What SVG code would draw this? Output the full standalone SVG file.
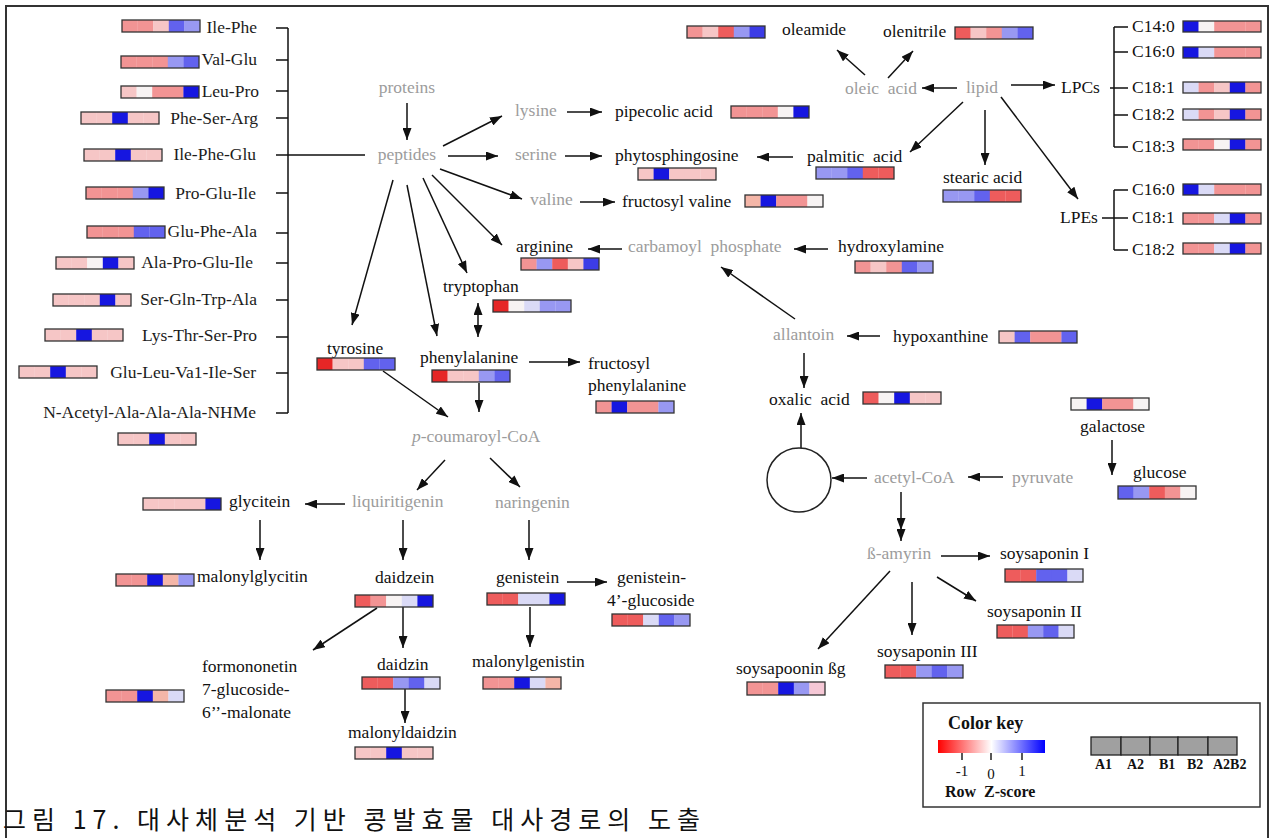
<svg xmlns="http://www.w3.org/2000/svg" width="1273" height="838" viewBox="0 0 1273 838">
<defs>
<style>
text{font-family:"Liberation Serif","Times New Roman",serif;font-size:17.5px;fill:#111}
.g{fill:#9c9c9c}
.pe{text-anchor:end;fill:#1c1c1c}
.k{stroke:#111;stroke-width:1.5;fill:none}
.a{marker-end:url(#ah)}
.bo{fill:none;stroke:#333;stroke-width:1.3}
.r3{fill:#e62626}.r2{fill:#ee5c5c}.r1{fill:#f29494}.r0{fill:#f6c6c6}.ro{fill:#f4b6a8}.rp{fill:#f6c8d6}
.w{fill:#f7f3f3}.b0{fill:#dadaf6}.b1{fill:#9898f2}.b2{fill:#6262ee}.bd{fill:#3c3ce6}.b3{fill:#1616e0}
.lg{font-weight:bold;font-size:14px}
.kt{font-weight:bold;font-size:18px}
.kn{font-size:15px;text-anchor:middle}
.kz{font-weight:bold;font-size:16px}
.cap{font-family:"Noto Sans CJK KR","Noto Sans",sans-serif;font-size:25px;fill:#111}
</style>
<marker id="ah" viewBox="0 0 12 9" refX="12" refY="4.5" markerWidth="12" markerHeight="9" markerUnits="userSpaceOnUse" orient="auto"><path d="M0,0L12,4.5L0,9z" fill="#111"/></marker>
<marker id="as" viewBox="0 0 12 9" refX="12" refY="4.5" markerWidth="12" markerHeight="9" markerUnits="userSpaceOnUse" orient="auto-start-reverse"><path d="M0,0L12,4.5L0,9z" fill="#111"/></marker>
<linearGradient id="zs" x1="0" x2="1" y1="0" y2="0"><stop offset="0" stop-color="#ff0000"/><stop offset="0.5" stop-color="#ffffff"/><stop offset="1" stop-color="#0000ff"/></linearGradient>
</defs>
<rect width="1273" height="838" fill="#fff"/>
<rect x="6" y="6" width="1262" height="860" fill="none" stroke="#333" stroke-width="2"/>

<!-- peptide bracket -->
<g id="peptide-bracket" class="k">
<path d="M288,28V413M276,28H288M276,60H288M276,91H288M276,118H288M276,155H365M276,193H288M276,233H288M276,263H288M276,300H288M276,337H288M276,373H288M276,413H288"/>
</g>

<!-- connectors -->
<g id="connectors" class="k">
<path class="a" d="M407,103L407,140"/>
<path class="a" d="M443,146L502,116"/>
<path class="a" d="M448,156L498,156"/>
<path class="a" d="M440,169L522,199"/>
<path class="a" d="M432,175L502,245"/>
<path class="a" d="M423,178L467,273"/>
<path class="a" d="M407,185L437,336"/>
<path class="a" d="M393,180L352,325"/>
<path class="a" d="M567,112L602,112"/>
<path class="a" d="M565,156L602,156"/>
<path class="a" d="M580,202L615,202"/>
<path class="a" d="M622,249L588,249"/>
<path class="a" d="M828,249L794,249"/>
<path class="a" d="M795,319L721,267"/>
<path class="a" d="M880,336L847,336"/>
<path class="a" d="M804,353L804,388"/>
<path class="a" d="M801,448L801,413"/>
<path class="a" d="M867,478L832,478"/>
<path class="a" d="M1003,477L968,477"/>
<path d="M901,492V530V541" marker-mid="url(#ah)" marker-end="url(#ah)"/>
<path class="a" d="M941,556L990,556"/>
<path class="a" d="M937,577L976,601"/>
<path class="a" d="M912,582L912,635"/>
<path class="a" d="M890,571L818,649"/>
<path class="a" d="M1112,440L1112,475"/>
<path d="M478,303L478,337" marker-start="url(#as)" marker-end="url(#as)"/>
<path class="a" d="M383,371L448,417"/>
<path class="a" d="M479,383L479,412"/>
<path class="a" d="M529,362L580,362"/>
<path class="a" d="M445,460L417,490"/>
<path class="a" d="M490,458L520,487"/>
<path class="a" d="M345,504L305,504"/>
<path class="a" d="M260,520L260,560"/>
<path class="a" d="M403,520L403,560"/>
<path class="a" d="M377,608L313,650"/>
<path class="a" d="M403,607L403,648"/>
<path class="a" d="M405,688L405,723"/>
<path class="a" d="M529,520L529,560"/>
<path class="a" d="M567,582L607,582"/>
<path class="a" d="M530,607L530,647"/>
<path class="a" d="M865,75L837,50"/>
<path class="a" d="M888,78L913,51"/>
<path class="a" d="M957,88L922,88"/>
<path class="a" d="M1011,85L1055,85"/>
<path class="a" d="M963,102L910,152"/>
<path class="a" d="M985,110L985,165"/>
<path class="a" d="M1001,97L1078,199"/>
<path class="a" d="M793,157L757,157"/>
<path d="M1114,27V147M1114,27H1128M1114,52H1128M1110,88H1128M1114,115H1128M1114,147H1128"/>
<path d="M1114,190V250M1114,190H1128M1102,218H1128M1114,250H1128"/>
</g>

<!-- peptides -->
<g id="n-ile-phe"><text class="pe" x="257" y="33">Ile-Phe</text>
<g transform="translate(122,20)"><rect class="r1" width="15.8" height="12"/><rect class="r1" x="15.6" width="15.8" height="12"/><rect class="r0" x="31.2" width="15.8" height="12"/><rect class="b2" x="46.8" width="15.8" height="12"/><rect class="b1" x="62.4" width="15.6" height="12"/><rect class="bo" width="78" height="12"/></g></g>
<g id="n-val-glu"><text class="pe" x="257" y="65">Val-Glu</text>
<g transform="translate(121,56)"><rect class="r1" width="15.8" height="12"/><rect class="r1" x="15.6" width="15.8" height="12"/><rect class="r1" x="31.2" width="15.8" height="12"/><rect class="b1" x="46.8" width="15.8" height="12"/><rect class="b2" x="62.4" width="15.6" height="12"/><rect class="bo" width="78" height="12"/></g></g>
<g id="n-leu-pro"><text class="pe" x="259" y="97">Leu-Pro</text>
<g transform="translate(121,86)"><rect class="r0" width="15.8" height="12"/><rect class="w" x="15.6" width="15.8" height="12"/><rect class="r1" x="31.2" width="15.8" height="12"/><rect class="r1" x="46.8" width="15.8" height="12"/><rect class="b3" x="62.4" width="15.6" height="12"/><rect class="bo" width="78" height="12"/></g></g>
<g id="n-phe-ser-arg"><text class="pe" x="258" y="124">Phe-Ser-Arg</text>
<g transform="translate(81,112)"><rect class="r0" width="15.8" height="12"/><rect class="r0" x="15.6" width="15.8" height="12"/><rect class="b3" x="31.2" width="15.8" height="12"/><rect class="r0" x="46.8" width="15.8" height="12"/><rect class="r0" x="62.4" width="15.6" height="12"/><rect class="bo" width="78" height="12"/></g></g>
<g id="n-ile-phe-glu"><text class="pe" x="256" y="160">Ile-Phe-Glu</text>
<g transform="translate(84,149)"><rect class="r0" width="15.8" height="12"/><rect class="r0" x="15.6" width="15.8" height="12"/><rect class="b3" x="31.2" width="15.8" height="12"/><rect class="r0" x="46.8" width="15.8" height="12"/><rect class="r0" x="62.4" width="15.6" height="12"/><rect class="bo" width="78" height="12"/></g></g>
<g id="n-pro-glu-ile"><text class="pe" x="256" y="199">Pro-Glu-Ile</text>
<g transform="translate(86,187)"><rect class="r1" width="15.8" height="12"/><rect class="r1" x="15.6" width="15.8" height="12"/><rect class="r1" x="31.2" width="15.8" height="12"/><rect class="b1" x="46.8" width="15.8" height="12"/><rect class="b3" x="62.4" width="15.6" height="12"/><rect class="bo" width="78" height="12"/></g></g>
<g id="n-glu-phe-ala"><text class="pe" x="257" y="237">Glu-Phe-Ala</text>
<g transform="translate(87,226)"><rect class="r1" width="15.8" height="12"/><rect class="r1" x="15.6" width="15.8" height="12"/><rect class="r1" x="31.2" width="15.8" height="12"/><rect class="b2" x="46.8" width="15.8" height="12"/><rect class="b2" x="62.4" width="15.6" height="12"/><rect class="bo" width="78" height="12"/></g></g>
<g id="n-ala-pro-glu-ile"><text class="pe" x="253" y="268">Ala-Pro-Glu-Ile</text>
<g transform="translate(56,257)"><rect class="r0" width="15.8" height="12"/><rect class="r0" x="15.6" width="15.8" height="12"/><rect class="w" x="31.2" width="15.8" height="12"/><rect class="b3" x="46.8" width="15.8" height="12"/><rect class="r0" x="62.4" width="15.6" height="12"/><rect class="bo" width="78" height="12"/></g></g>
<g id="n-ser-gln-trp-ala"><text class="pe" x="257" y="305">Ser-Gln-Trp-Ala</text>
<g transform="translate(53,294)"><rect class="r0" width="15.8" height="12"/><rect class="r0" x="15.6" width="15.8" height="12"/><rect class="r0" x="31.2" width="15.8" height="12"/><rect class="b3" x="46.8" width="15.8" height="12"/><rect class="r0" x="62.4" width="15.6" height="12"/><rect class="bo" width="78" height="12"/></g></g>
<g id="n-lys-thr-ser-pro"><text class="pe" x="257" y="341">Lys-Thr-Ser-Pro</text>
<g transform="translate(45,329)"><rect class="r0" width="15.8" height="12"/><rect class="r0" x="15.6" width="15.8" height="12"/><rect class="b3" x="31.2" width="15.8" height="12"/><rect class="r0" x="46.8" width="15.8" height="12"/><rect class="r0" x="62.4" width="15.6" height="12"/><rect class="bo" width="78" height="12"/></g></g>
<g id="n-glu-leu-val-ile-ser"><text class="pe" x="256" y="378">Glu-Leu-Va1-Ile-Ser</text>
<g transform="translate(19,366)"><rect class="r0" width="15.8" height="12"/><rect class="r0" x="15.6" width="15.8" height="12"/><rect class="b3" x="31.2" width="15.8" height="12"/><rect class="r0" x="46.8" width="15.8" height="12"/><rect class="r0" x="62.4" width="15.6" height="12"/><rect class="bo" width="78" height="12"/></g></g>
<g id="n-n-acetyl"><text class="pe" x="256" y="418">N-Acetyl-Ala-Ala-Ala-NHMe</text>
<g transform="translate(118,433)"><rect class="r0" width="15.8" height="12"/><rect class="r0" x="15.6" width="15.8" height="12"/><rect class="b3" x="31.2" width="15.8" height="12"/><rect class="r0" x="46.8" width="15.8" height="12"/><rect class="r0" x="62.4" width="15.6" height="12"/><rect class="bo" width="78" height="12"/></g></g>

<!-- intermediates without data -->
<g id="n-proteins"><text class="g" x="407" y="93" text-anchor="middle">proteins</text></g>
<g id="n-peptides"><text class="g" x="407" y="160" text-anchor="middle">peptides</text></g>
<g id="n-lysine"><text class="g" x="515" y="116">lysine</text></g>
<g id="n-serine"><text class="g" x="515" y="160">serine</text></g>
<g id="n-valine"><text class="g" x="530" y="205">valine</text></g>
<g id="n-carbamoyl-phosphate"><text class="g" x="628" y="252">carbamoyl&#160; phosphate</text></g>
<g id="n-p-coumaroyl-coa"><text class="g" x="412" y="442"><tspan font-style="italic">p</tspan>-coumaroyl-CoA</text></g>
<g id="n-liquiritigenin"><text class="g" x="352" y="507">liquiritigenin</text></g>
<g id="n-naringenin"><text class="g" x="495" y="508">naringenin</text></g>
<g id="n-oleic-acid"><text class="g" x="845" y="94">oleic&#160; acid</text></g>
<g id="n-lipid"><text class="g" x="966" y="93">lipid</text></g>
<g id="n-allantoin"><text class="g" x="773" y="340">allantoin</text></g>
<g id="n-acetyl-coa"><text class="g" x="874" y="483">acetyl-CoA</text></g>
<g id="n-pyruvate"><text class="g" x="1012" y="483">pyruvate</text></g>
<g id="n-b-amyrin"><text class="g" x="867" y="559">ß-amyrin</text></g>
<g id="n-tca"><circle cx="799" cy="480" r="32" fill="none" stroke="#222" stroke-width="1.5"/></g>

<!-- metabolites with heat strips -->
<g id="n-pipecolic-acid"><text x="615" y="117">pipecolic acid</text>
<g transform="translate(731,106)"><rect class="r1" width="15.8" height="12"/><rect class="r1" x="15.6" width="15.8" height="12"/><rect class="r1" x="31.2" width="15.8" height="12"/><rect class="w" x="46.8" width="15.8" height="12"/><rect class="b3" x="62.4" width="15.6" height="12"/><rect class="bo" width="78" height="12"/></g></g>
<g id="n-phytosphingosine"><text x="615" y="161">phytosphingosine</text>
<g transform="translate(638,168)"><rect class="r0" width="15.8" height="12"/><rect class="b3" x="15.6" width="15.8" height="12"/><rect class="r0" x="31.2" width="15.8" height="12"/><rect class="r0" x="46.8" width="15.8" height="12"/><rect class="r0" x="62.4" width="15.6" height="12"/><rect class="bo" width="78" height="12"/></g></g>
<g id="n-fructosyl-valine"><text x="622" y="207">fructosyl valine</text>
<g transform="translate(745,195)"><rect class="ro" width="15.8" height="12"/><rect class="b3" x="15.6" width="15.8" height="12"/><rect class="r1" x="31.2" width="15.8" height="12"/><rect class="r1" x="46.8" width="15.8" height="12"/><rect class="w" x="62.4" width="15.6" height="12"/><rect class="bo" width="78" height="12"/></g></g>
<g id="n-arginine"><text x="516" y="252">arginine</text>
<g transform="translate(521,258)"><rect class="r1" width="15.8" height="12"/><rect class="b1" x="15.6" width="15.8" height="12"/><rect class="r2" x="31.2" width="15.8" height="12"/><rect class="r0" x="46.8" width="15.8" height="12"/><rect class="bd" x="62.4" width="15.6" height="12"/><rect class="bo" width="78" height="12"/></g></g>
<g id="n-hydroxylamine"><text x="838" y="252">hydroxylamine</text>
<g transform="translate(855,261)"><rect class="r1" width="15.8" height="12"/><rect class="r0" x="15.6" width="15.8" height="12"/><rect class="r1" x="31.2" width="15.8" height="12"/><rect class="b2" x="46.8" width="15.8" height="12"/><rect class="b1" x="62.4" width="15.6" height="12"/><rect class="bo" width="78" height="12"/></g></g>
<g id="n-tryptophan"><text x="443" y="292">tryptophan</text>
<g transform="translate(493,300)"><rect class="r3" width="15.8" height="12"/><rect class="w" x="15.6" width="15.8" height="12"/><rect class="b0" x="31.2" width="15.8" height="12"/><rect class="b1" x="46.8" width="15.8" height="12"/><rect class="b1" x="62.4" width="15.6" height="12"/><rect class="bo" width="78" height="12"/></g></g>
<g id="n-tyrosine"><text x="327" y="354">tyrosine</text>
<g transform="translate(317,358)"><rect class="r3" width="15.8" height="12"/><rect class="r0" x="15.6" width="15.8" height="12"/><rect class="r0" x="31.2" width="15.8" height="12"/><rect class="b2" x="46.8" width="15.8" height="12"/><rect class="b2" x="62.4" width="15.6" height="12"/><rect class="bo" width="78" height="12"/></g></g>
<g id="n-phenylalanine"><text x="420" y="363">phenylalanine</text>
<g transform="translate(432,370)"><rect class="r3" width="15.8" height="12"/><rect class="r0" x="15.6" width="15.8" height="12"/><rect class="r0" x="31.2" width="15.8" height="12"/><rect class="b1" x="46.8" width="15.8" height="12"/><rect class="b2" x="62.4" width="15.6" height="12"/><rect class="bo" width="78" height="12"/></g></g>
<g id="n-fructosyl-phenylalanine"><text x="588" y="369">fructosyl</text><text x="588" y="391">phenylalanine</text>
<g transform="translate(596,401)"><rect class="r1" width="15.8" height="12"/><rect class="b3" x="15.6" width="15.8" height="12"/><rect class="r1" x="31.2" width="15.8" height="12"/><rect class="r1" x="46.8" width="15.8" height="12"/><rect class="b1" x="62.4" width="15.6" height="12"/><rect class="bo" width="78" height="12"/></g></g>
<g id="n-glycitein"><text x="229" y="507">glycitein</text>
<g transform="translate(143,498)"><rect class="r0" width="15.8" height="12"/><rect class="r0" x="15.6" width="15.8" height="12"/><rect class="r0" x="31.2" width="15.8" height="12"/><rect class="r0" x="46.8" width="15.8" height="12"/><rect class="b3" x="62.4" width="15.6" height="12"/><rect class="bo" width="78" height="12"/></g></g>
<g id="n-malonylglycitin"><text x="197" y="582">malonylglycitin</text>
<g transform="translate(116,574)"><rect class="r1" width="15.8" height="12"/><rect class="r1" x="15.6" width="15.8" height="12"/><rect class="b3" x="31.2" width="15.8" height="12"/><rect class="ro" x="46.8" width="15.8" height="12"/><rect class="b1" x="62.4" width="15.6" height="12"/><rect class="bo" width="78" height="12"/></g></g>
<g id="n-daidzein"><text x="375" y="583">daidzein</text>
<g transform="translate(355,595)"><rect class="r2" width="15.8" height="12"/><rect class="r1" x="15.6" width="15.8" height="12"/><rect class="w" x="31.2" width="15.8" height="12"/><rect class="b0" x="46.8" width="15.8" height="12"/><rect class="b3" x="62.4" width="15.6" height="12"/><rect class="bo" width="78" height="12"/></g></g>
<g id="n-formononetin"><text x="202" y="672">formononetin</text><text x="202" y="695">7-glucoside-</text><text x="202" y="718">6’’-malonate</text>
<g transform="translate(106,690)"><rect class="r1" width="15.8" height="12"/><rect class="r1" x="15.6" width="15.8" height="12"/><rect class="b3" x="31.2" width="15.8" height="12"/><rect class="ro" x="46.8" width="15.8" height="12"/><rect class="b0" x="62.4" width="15.6" height="12"/><rect class="bo" width="78" height="12"/></g></g>
<g id="n-daidzin"><text x="377" y="670">daidzin</text>
<g transform="translate(362,677)"><rect class="r2" width="15.8" height="12"/><rect class="r2" x="15.6" width="15.8" height="12"/><rect class="b1" x="31.2" width="15.8" height="12"/><rect class="b2" x="46.8" width="15.8" height="12"/><rect class="b0" x="62.4" width="15.6" height="12"/><rect class="bo" width="78" height="12"/></g></g>
<g id="n-malonyldaidzin"><text x="348" y="738">malonyldaidzin</text>
<g transform="translate(355,747)"><rect class="r0" width="15.8" height="12"/><rect class="r0" x="15.6" width="15.8" height="12"/><rect class="b3" x="31.2" width="15.8" height="12"/><rect class="r0" x="46.8" width="15.8" height="12"/><rect class="r0" x="62.4" width="15.6" height="12"/><rect class="bo" width="78" height="12"/></g></g>
<g id="n-genistein"><text x="496" y="583">genistein</text>
<g transform="translate(487,593)"><rect class="r2" width="15.8" height="12"/><rect class="r2" x="15.6" width="15.8" height="12"/><rect class="b0" x="31.2" width="15.8" height="12"/><rect class="b0" x="46.8" width="15.8" height="12"/><rect class="b3" x="62.4" width="15.6" height="12"/><rect class="bo" width="78" height="12"/></g></g>
<g id="n-genistein-glucoside"><text x="617" y="583">genistein-</text><text x="607" y="606">4’-glucoside</text>
<g transform="translate(612,614)"><rect class="r2" width="15.8" height="12"/><rect class="r2" x="15.6" width="15.8" height="12"/><rect class="b0" x="31.2" width="15.8" height="12"/><rect class="b2" x="46.8" width="15.8" height="12"/><rect class="b1" x="62.4" width="15.6" height="12"/><rect class="bo" width="78" height="12"/></g></g>
<g id="n-malonylgenistin"><text x="472" y="667">malonylgenistin</text>
<g transform="translate(483,677)"><rect class="r1" width="15.8" height="12"/><rect class="r1" x="15.6" width="15.8" height="12"/><rect class="b3" x="31.2" width="15.8" height="12"/><rect class="b0" x="46.8" width="15.8" height="12"/><rect class="ro" x="62.4" width="15.6" height="12"/><rect class="bo" width="78" height="12"/></g></g>
<g id="n-oleamide"><text x="782" y="35">oleamide</text>
<g transform="translate(687,26)"><rect class="r1" width="15.8" height="12"/><rect class="r0" x="15.6" width="15.8" height="12"/><rect class="r2" x="31.2" width="15.8" height="12"/><rect class="b1" x="46.8" width="15.8" height="12"/><rect class="bd" x="62.4" width="15.6" height="12"/><rect class="bo" width="78" height="12"/></g></g>
<g id="n-olenitrile"><text x="883" y="37">olenitrile</text>
<g transform="translate(955,27)"><rect class="r2" width="15.8" height="12"/><rect class="r0" x="15.6" width="15.8" height="12"/><rect class="r1" x="31.2" width="15.8" height="12"/><rect class="b1" x="46.8" width="15.8" height="12"/><rect class="b2" x="62.4" width="15.6" height="12"/><rect class="bo" width="78" height="12"/></g></g>
<g id="n-palmitic-acid"><text x="807" y="162">palmitic&#160; acid</text>
<g transform="translate(816,167)"><rect class="b1" width="15.8" height="12"/><rect class="b1" x="15.6" width="15.8" height="12"/><rect class="b2" x="31.2" width="15.8" height="12"/><rect class="r2" x="46.8" width="15.8" height="12"/><rect class="r2" x="62.4" width="15.6" height="12"/><rect class="bo" width="78" height="12"/></g></g>
<g id="n-stearic-acid"><text x="943" y="183">stearic acid</text>
<g transform="translate(943,190)"><rect class="b1" width="15.8" height="12"/><rect class="b1" x="15.6" width="15.8" height="12"/><rect class="b2" x="31.2" width="15.8" height="12"/><rect class="r2" x="46.8" width="15.8" height="12"/><rect class="r2" x="62.4" width="15.6" height="12"/><rect class="bo" width="78" height="12"/></g></g>
<g id="n-lpcs"><text x="1061" y="93">LPCs</text></g>
<g id="n-lpc-c14-0"><text x="1132" y="32">C14:0</text>
<g transform="translate(1183,21)"><rect class="b3" width="15.8" height="11"/><rect class="w" x="15.6" width="15.8" height="11"/><rect class="r1" x="31.2" width="15.8" height="11"/><rect class="r1" x="46.8" width="15.8" height="11"/><rect class="r1" x="62.4" width="15.6" height="11"/><rect class="bo" width="78" height="11"/></g></g>
<g id="n-lpc-c16-0"><text x="1132" y="57">C16:0</text>
<g transform="translate(1183,47)"><rect class="b3" width="15.8" height="11"/><rect class="b0" x="15.6" width="15.8" height="11"/><rect class="r1" x="31.2" width="15.8" height="11"/><rect class="r1" x="46.8" width="15.8" height="11"/><rect class="r1" x="62.4" width="15.6" height="11"/><rect class="bo" width="78" height="11"/></g></g>
<g id="n-lpc-c18-1"><text x="1132" y="93">C18:1</text>
<g transform="translate(1183,82)"><rect class="b0" width="15.8" height="11"/><rect class="r1" x="15.6" width="15.8" height="11"/><rect class="r0" x="31.2" width="15.8" height="11"/><rect class="b3" x="46.8" width="15.8" height="11"/><rect class="r1" x="62.4" width="15.6" height="11"/><rect class="bo" width="78" height="11"/></g></g>
<g id="n-lpc-c18-2"><text x="1132" y="120">C18:2</text>
<g transform="translate(1183,109)"><rect class="b0" width="15.8" height="11"/><rect class="r1" x="15.6" width="15.8" height="11"/><rect class="r0" x="31.2" width="15.8" height="11"/><rect class="b3" x="46.8" width="15.8" height="11"/><rect class="r1" x="62.4" width="15.6" height="11"/><rect class="bo" width="78" height="11"/></g></g>
<g id="n-lpc-c18-3"><text x="1132" y="152">C18:3</text>
<g transform="translate(1183,139)"><rect class="r1" width="15.8" height="11"/><rect class="r1" x="15.6" width="15.8" height="11"/><rect class="w" x="31.2" width="15.8" height="11"/><rect class="b3" x="46.8" width="15.8" height="11"/><rect class="r1" x="62.4" width="15.6" height="11"/><rect class="bo" width="78" height="11"/></g></g>
<g id="n-lpes"><text x="1060" y="223">LPEs</text></g>
<g id="n-lpe-c16-0"><text x="1132" y="195">C16:0</text>
<g transform="translate(1183,184)"><rect class="b3" width="15.8" height="11"/><rect class="b0" x="15.6" width="15.8" height="11"/><rect class="r1" x="31.2" width="15.8" height="11"/><rect class="r1" x="46.8" width="15.8" height="11"/><rect class="r1" x="62.4" width="15.6" height="11"/><rect class="bo" width="78" height="11"/></g></g>
<g id="n-lpe-c18-1"><text x="1132" y="223">C18:1</text>
<g transform="translate(1183,213)"><rect class="r1" width="15.8" height="11"/><rect class="r1" x="15.6" width="15.8" height="11"/><rect class="b0" x="31.2" width="15.8" height="11"/><rect class="b3" x="46.8" width="15.8" height="11"/><rect class="r1" x="62.4" width="15.6" height="11"/><rect class="bo" width="78" height="11"/></g></g>
<g id="n-lpe-c18-2"><text x="1132" y="255">C18:2</text>
<g transform="translate(1183,243)"><rect class="r1" width="15.8" height="11"/><rect class="r1" x="15.6" width="15.8" height="11"/><rect class="b0" x="31.2" width="15.8" height="11"/><rect class="b3" x="46.8" width="15.8" height="11"/><rect class="r1" x="62.4" width="15.6" height="11"/><rect class="bo" width="78" height="11"/></g></g>
<g id="n-hypoxanthine"><text x="893" y="342">hypoxanthine</text>
<g transform="translate(999,331)"><rect class="r0" width="15.8" height="12"/><rect class="b2" x="15.6" width="15.8" height="12"/><rect class="r1" x="31.2" width="15.8" height="12"/><rect class="r1" x="46.8" width="15.8" height="12"/><rect class="b2" x="62.4" width="15.6" height="12"/><rect class="bo" width="78" height="12"/></g></g>
<g id="n-oxalic-acid"><text x="769" y="405">oxalic&#160; acid</text>
<g transform="translate(863,392)"><rect class="r2" width="15.8" height="12"/><rect class="w" x="15.6" width="15.8" height="12"/><rect class="b3" x="31.2" width="15.8" height="12"/><rect class="r0" x="46.8" width="15.8" height="12"/><rect class="r0" x="62.4" width="15.6" height="12"/><rect class="bo" width="78" height="12"/></g></g>
<g id="n-galactose"><text x="1080" y="432">galactose</text>
<g transform="translate(1071,398)"><rect class="w" width="15.8" height="12"/><rect class="b3" x="15.6" width="15.8" height="12"/><rect class="r1" x="31.2" width="15.8" height="12"/><rect class="r1" x="46.8" width="15.8" height="12"/><rect class="w" x="62.4" width="15.6" height="12"/><rect class="bo" width="78" height="12"/></g></g>
<g id="n-glucose"><text x="1133" y="478">glucose</text>
<g transform="translate(1118,486)"><rect class="b2" width="15.8" height="13"/><rect class="b1" x="15.6" width="15.8" height="13"/><rect class="r2" x="31.2" width="15.8" height="13"/><rect class="r1" x="46.8" width="15.8" height="13"/><rect class="w" x="62.4" width="15.6" height="13"/><rect class="bo" width="78" height="13"/></g></g>
<g id="n-soysaponin-1"><text x="1000" y="559">soysaponin I</text>
<g transform="translate(1005,569)"><rect class="r2" width="15.8" height="13"/><rect class="r2" x="15.6" width="15.8" height="13"/><rect class="b2" x="31.2" width="15.8" height="13"/><rect class="b2" x="46.8" width="15.8" height="13"/><rect class="b0" x="62.4" width="15.6" height="13"/><rect class="bo" width="78" height="13"/></g></g>
<g id="n-soysaponin-2"><text x="987" y="617">soysaponin II</text>
<g transform="translate(997,625)"><rect class="r2" width="15.6" height="13"/><rect class="r2" x="15.4" width="15.6" height="13"/><rect class="b1" x="30.8" width="15.6" height="13"/><rect class="b2" x="46.2" width="15.6" height="13"/><rect class="b0" x="61.6" width="15.4" height="13"/><rect class="bo" width="77" height="13"/></g></g>
<g id="n-soysaponin-3"><text x="877" y="657">soysaponin III</text>
<g transform="translate(885,665)"><rect class="r2" width="15.8" height="13"/><rect class="r2" x="15.6" width="15.8" height="13"/><rect class="b1" x="31.2" width="15.8" height="13"/><rect class="b2" x="46.8" width="15.8" height="13"/><rect class="b1" x="62.4" width="15.6" height="13"/><rect class="bo" width="78" height="13"/></g></g>
<g id="n-soysapoonin-bg"><text x="736" y="674">soysapoonin ßg</text>
<g transform="translate(747,682)"><rect class="r1" width="15.8" height="13"/><rect class="r1" x="15.6" width="15.8" height="13"/><rect class="b3" x="31.2" width="15.8" height="13"/><rect class="b1" x="46.8" width="15.8" height="13"/><rect class="rp" x="62.4" width="15.6" height="13"/><rect class="bo" width="78" height="13"/></g></g>

<!-- colour key -->
<g id="legend">
<rect x="923" y="703" width="337" height="104" fill="#fff" stroke="#333" stroke-width="1.5"/>
<text class="kt" x="948" y="729">Color key</text>
<rect x="938" y="740" width="107" height="13" fill="url(#zs)"/>
<path d="M962,753V760M991,753V760M1022,753V760" stroke="#222" stroke-width="1.5"/>
<text class="kn" x="962" y="776">-1</text>
<text class="kn" x="991" y="779">0</text>
<text class="kn" x="1022" y="776">1</text>
<text class="kz" x="945" y="797">Row&#160; Z-score</text>
<g fill="#a0a0a0" stroke="#222" stroke-width="1.3">
<rect x="1091" y="737" width="30" height="18"/><rect x="1121" y="737" width="29" height="18"/><rect x="1150" y="737" width="28" height="18"/><rect x="1178" y="737" width="30" height="18"/><rect x="1208" y="737" width="29" height="18"/>
</g>
<text class="lg" x="1095" y="769">A1</text>
<text class="lg" x="1127" y="769">A2</text>
<text class="lg" x="1159" y="769">B1</text>
<text class="lg" x="1187" y="769">B2</text>
<text class="lg" x="1213" y="769">A2B2</text>
</g>

<text class="cap" x="3" y="829" textLength="697" lengthAdjust="spacing">그림 17. 대사체분석 기반 콩발효물 대사경로의 도출</text>
</svg>
